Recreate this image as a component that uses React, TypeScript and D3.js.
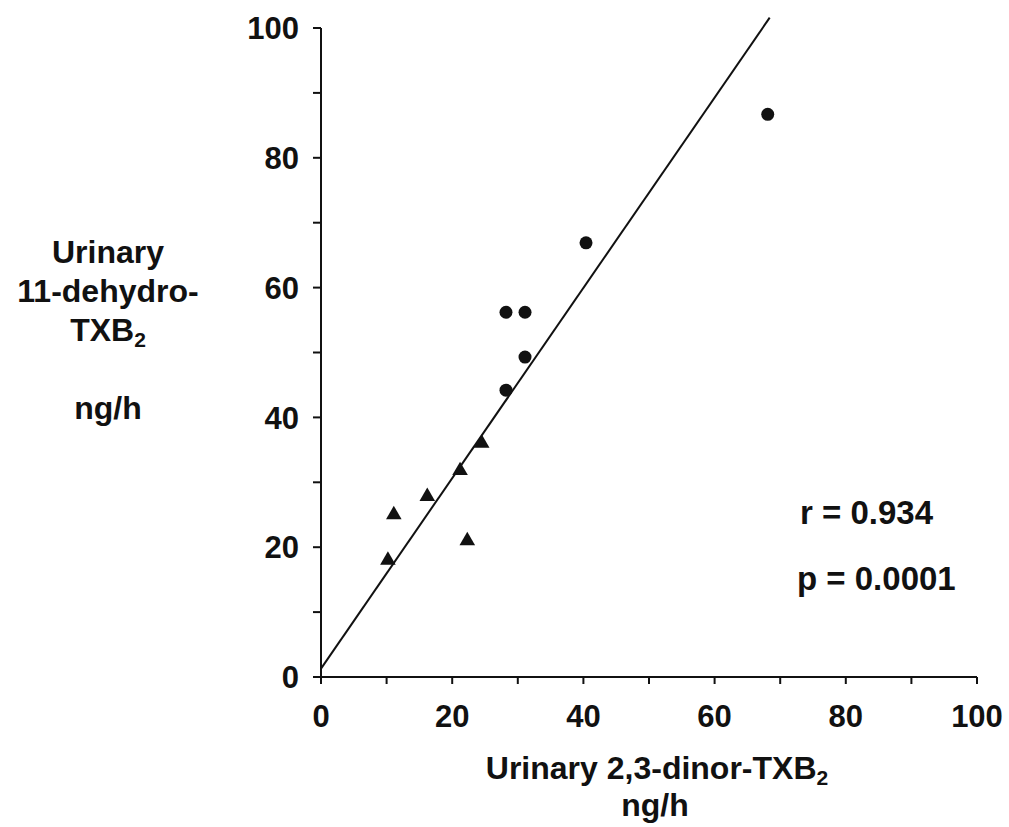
import * as d3 from 'd3'

const WIDTH = 1009
const HEIGHT = 827
const MARGIN = { top: 28, right: 32, bottom: 150, left: 321 }

// group 1: circles
const circleX = [68.1, 40.4, 28.2, 31.1, 31.1, 28.2]
const circleY = [86.7, 66.9, 56.2, 56.2, 49.3, 44.2]

// group 2: triangles
const triX = [24.5, 21.2, 16.2, 11.1, 22.3, 10.2]
const triY = [36.0, 31.8, 27.8, 25.0, 21.0, 18.0]

// regression line end points (x, y)
const fitX = [0, 68.4]
const fitY = [1.3, 101.6]

const tickValues = [0, 10, 20, 30, 40, 50, 60, 70, 80, 90, 100]
const labelValues = [0, 20, 40, 60, 80, 100]

const yTitle = ['Urinary', '11-dehydro-', 'TXB', '', 'ng/h']
const stats = ['r = 0.934', 'p = 0.0001']

const FONT = 'Liberation Sans, Arial, Helvetica, sans-serif'

export default function App() {
  const innerW = WIDTH - MARGIN.left - MARGIN.right
  const innerH = HEIGHT - MARGIN.top - MARGIN.bottom

  const x = d3.scaleLinear().domain([0, 100]).range([MARGIN.left, MARGIN.left + innerW])
  const y = d3.scaleLinear().domain([0, 100]).range([MARGIN.top + innerH, MARGIN.top])

  const line = d3.line<number>()
    .x(i => x(fitX[i]))
    .y(i => y(fitY[i]))

  const triangle = d3.symbol().type(d3.symbolTriangle).size(105)()

  const x0 = x(0)
  const y0 = y(0)

  return (
    <svg
      width={WIDTH}
      height={HEIGHT}
      style={{ position: 'absolute', left: 0, top: 0, background: '#fff' }}
      fontFamily={FONT}
      fontWeight="bold"
    >
      {/* Y axis */}
      <line x1={x0} x2={x0} y1={y(0)} y2={y(100)} stroke="#111" strokeWidth={2} />
      {tickValues.map(t => (
        <line key={'yt' + t} x1={x0 - 8} x2={x0} y1={y(t)} y2={y(t)} stroke="#111" strokeWidth={2} />
      ))}
      {labelValues.map(t => (
        <text key={'yl' + t} x={x0 - 22} y={y(t)} dy="0.36em" textAnchor="end" fontSize={31} fill="#111">
          {t}
        </text>
      ))}

      {/* X axis */}
      <line x1={x(0)} x2={x(100)} y1={y0} y2={y0} stroke="#111" strokeWidth={2} />
      {tickValues.map(t => (
        <line key={'xt' + t} x1={x(t)} x2={x(t)} y1={y0} y2={y0 + 7} stroke="#111" strokeWidth={2} />
      ))}
      {labelValues.map(t => (
        <text key={'xl' + t} x={x(t)} y={y0 + 50} textAnchor="middle" fontSize={31} fill="#111">
          {t}
        </text>
      ))}

      {/* Regression line */}
      <path d={line([0, 1]) ?? ''} fill="none" stroke="#111" strokeWidth={2} />

      {/* Points */}
      {circleX.map((cx, i) => (
        <circle key={'c' + i} cx={x(cx)} cy={y(circleY[i])} r={6.5} fill="#111" />
      ))}
      {triX.map((tx, i) => (
        <path key={'t' + i} d={triangle ?? ''} transform={`translate(${x(tx)},${y(triY[i])})`} fill="#111" />
      ))}

      {/* Y axis title */}
      <g fontSize={32} fill="#111" textAnchor="middle">
        {yTitle.map((s, i) =>
          s === '' ? null : (
            <text key={'yt' + i} x={108} y={263 + i * 39}>
              {s}
              {s === 'TXB' && <tspan fontSize={21} dy={6}>2</tspan>}
            </text>
          )
        )}
      </g>

      {/* X axis title */}
      <g fontSize={32} fill="#111" textAnchor="middle">
        <text x={657} y={779}>
          Urinary 2,3-dinor-TXB<tspan fontSize={21} dy={6}>2</tspan>
        </text>
        <text x={655} y={816}>ng/h</text>
      </g>

      {/* Statistics */}
      <g fontSize={33} fill="#111">
        <text x={800} y={524}>{stats[0]}</text>
        <text x={797} y={590}>{stats[1]}</text>
      </g>
    </svg>
  )
}
